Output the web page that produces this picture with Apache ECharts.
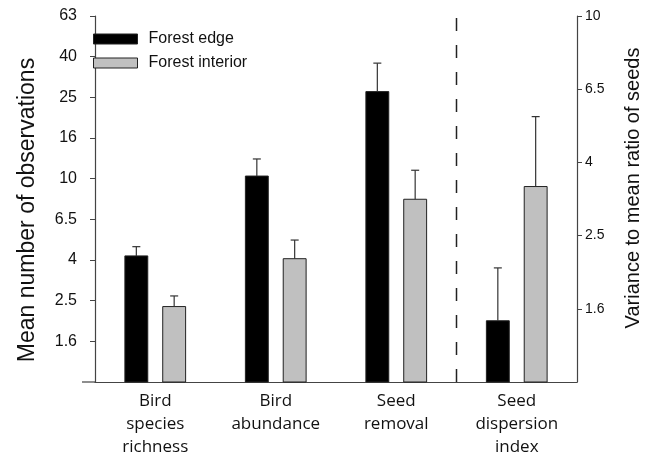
<!DOCTYPE html>
<html>
<head>
<meta charset="utf-8">
<script src="https://cdn.jsdelivr.net/npm/echarts@6/dist/echarts.min.js"></script>
<style>
  html, body { margin: 0; padding: 0; background: #fff; }
  #chart { width: 647px; height: 457px; }
</style>
</head>
<body>
<div id="chart"></div>
<script>
// Categories along the x axis
const categories = ['Bird\nspecies\nrichness', 'Bird\nabundance', 'Seed\nremoval', 'Seed\ndispersion\nindex'];

// Group means and the upper end of their error bars (raw units)
const edgeMean      = [4.17, 10.3, 26.8, 1.47];
const edgeUpper     = [4.63, 12.5, 37.0, 2.05];
const interiorMean  = [2.35, 4.04, 7.92, 3.42];
const interiorUpper = [2.65, 4.99, 11.0, 5.31];

// The last category is read against the right-hand axis
const rightAxisCategory = 3;

// Tick labels for the log-spaced axes (steps of 10^0.2)
const leftTickLabels  = ['1.6', '2.5', '4', '6.5', '10', '16', '25', '40', '63'];
const rightTickLabels = ['1.6', '2.5', '4', '6.5', '10'];

const seriesNames = ['Forest edge', 'Forest interior'];
const seriesColors = ['#000000', '#c0c0c0'];

const GRID = { left: 95, right: 70, top: 16, bottom: 75, containLabel: false, outerBoundsMode: 'none' };
const LEFT_AXIS_OFFSET = 13;
const STEP = 0.2;
const AXIS_COLOR = '#444';

const log10 = v => Math.log10(v);

function tickFormatter(labels) {
  return function (v) {
    const i = Math.round(v / STEP);
    return i >= 1 && i <= labels.length ? labels[i - 1] : '';
  };
}

// Tick positions (log units) for each labelled tick
const tickPositions = labels => labels.map((_, i) => +((i + 1) * STEP).toFixed(4));

// Rows [categoryIndex, log mean, log upper] for one axis side
function rows(means, uppers, useRight) {
  const out = [];
  means.forEach((m, i) => {
    if ((i === rightAxisCategory) === useRight) {
      out.push([i, log10(m), log10(uppers[i])]);
    }
  });
  return out;
}

function barRenderer(side, fill) {
  return function (params, api) {
    const band = api.size([1, 0])[0];
    const w = band * 0.19;
    const shift = band * 0.157 * side;
    const base = api.coord([api.value(0), 0]);
    const top = api.coord([api.value(0), api.value(1)]);
    const err = api.coord([api.value(0), api.value(2)]);
    const cx = base[0] + shift;
    return {
      type: 'group',
      children: [
        {
          type: 'rect',
          shape: { x: cx - w / 2, y: top[1], width: w, height: base[1] - top[1] },
          style: { fill: fill, stroke: '#222', lineWidth: 1 }
        },
        {
          type: 'line',
          shape: { x1: cx, y1: top[1], x2: cx, y2: err[1] },
          style: { stroke: '#333', lineWidth: 1.2 }
        },
        {
          type: 'line',
          shape: { x1: cx - 4, y1: err[1], x2: cx + 4, y2: err[1] },
          style: { stroke: '#333', lineWidth: 1.2 }
        }
      ]
    };
  };
}

const series = [];
[[edgeMean, edgeUpper], [interiorMean, interiorUpper]].forEach(([m, u], k) => {
  const side = k === 0 ? -1 : 1;
  [false, true].forEach(useRight => {
    series.push({
      type: 'custom',
      name: seriesNames[k],
      xAxisIndex: 0,
      yAxisIndex: useRight ? 1 : 0,
      itemStyle: { color: seriesColors[k], borderColor: '#222', borderWidth: 1 },
      renderItem: barRenderer(side, seriesColors[k]),
      encode: { x: 0, y: [1, 2] },
      data: rows(m, u, useRight)
    });
  });
});

// Dashed divider between the left-axis and right-axis groups
series.push({
  type: 'custom',
  name: 'divider',
  xAxisIndex: 1,
  yAxisIndex: 0,
  silent: true,
  renderItem: function (params, api) {
    const a = api.coord([api.value(0), api.value(1)]);
    const b = api.coord([api.value(0), api.value(2)]);
    return {
      type: 'line',
      shape: { x1: a[0], y1: a[1], x2: b[0], y2: b[1] },
      style: { stroke: '#222', lineWidth: 1.5, lineDash: [13, 14] }
    };
  },
  data: [[rightAxisCategory, 0, leftTickLabels.length * STEP]]
});

const chart = echarts.init(document.getElementById('chart'), null, { renderer: 'canvas' });

chart.setOption({
  animation: false,
  backgroundColor: '#fff',
  grid: GRID,
  legend: {
    orient: 'vertical',
    left: 93,
    top: 31,
    padding: 0,
    itemWidth: 44,
    itemHeight: 10,
    itemGap: 8,
    textStyle: { fontFamily: 'Liberation Sans', fontSize: 16, color: '#111', padding: [0, 0, 0, 6] },
    data: seriesNames.map((n, k) => ({
      name: n,
      icon: 'rect',
      itemStyle: { color: seriesColors[k], borderColor: '#222', borderWidth: 1 }
    }))
  },
  xAxis: [
    {
      type: 'category',
      data: categories,
      axisLine: { lineStyle: { color: AXIS_COLOR, width: 1.2 } },
      axisTick: { alignWithLabel: true, length: 4, lineStyle: { color: AXIS_COLOR } },
      axisLabel: {
        fontFamily: 'Open Sans', fontSize: 17, color: '#111',
        lineHeight: 23, margin: 8, interval: 0
      },
      splitLine: { show: false }
    },
    {
      type: 'value',
      min: 0,
      max: categories.length,
      show: false
    }
  ],
  yAxis: [
    {
      type: 'value',
      position: 'left',
      offset: LEFT_AXIS_OFFSET,
      min: 0,
      max: leftTickLabels.length * STEP,
      interval: STEP,
      name: 'Mean number of observations',
      nameLocation: 'middle',
      nameRotate: 90,
      nameGap: 43,
      nameTextStyle: { fontFamily: 'Liberation Sans', fontSize: 23, color: '#111', padding: [0, 22, 0, 0] },
      axisLine: { show: true, lineStyle: { color: AXIS_COLOR, width: 1.2 } },
      axisTick: { show: true, length: 5, customValues: tickPositions(leftTickLabels), lineStyle: { color: AXIS_COLOR } },
      axisLabel: { fontFamily: 'Liberation Sans', fontSize: 16, color: '#111', margin: 5, formatter: tickFormatter(leftTickLabels) },
      splitLine: { show: false }
    },
    {
      type: 'value',
      position: 'right',
      min: 0,
      max: rightTickLabels.length * STEP,
      interval: STEP,
      name: 'Variance to mean ratio of seeds',
      nameLocation: 'middle',
      nameRotate: 90,
      nameGap: 46,
      nameTextStyle: { fontFamily: 'Liberation Sans', fontSize: 20, color: '#111', padding: [0, 0, 0, 22] },
      axisLine: { show: true, lineStyle: { color: AXIS_COLOR, width: 1.2 } },
      axisTick: { show: true, inside: false, length: 5, customValues: tickPositions(rightTickLabels), lineStyle: { color: AXIS_COLOR } },
      axisLabel: { fontFamily: 'Liberation Sans', fontSize: 14, color: '#111', margin: 8, formatter: tickFormatter(rightTickLabels) },
      splitLine: { show: false }
    }
  ],
  series: series
});

// Carry the baseline left to meet the offset left axis
const baseY = chart.convertToPixel({ yAxisIndex: 0 }, 0);
chart.setOption({
  graphic: [{
    type: 'line',
    silent: true,
    shape: { x1: GRID.left - LEFT_AXIS_OFFSET, y1: baseY, x2: GRID.left, y2: baseY },
    style: { stroke: AXIS_COLOR, lineWidth: 1.2 }
  }]
});
</script>
</body>
</html>
